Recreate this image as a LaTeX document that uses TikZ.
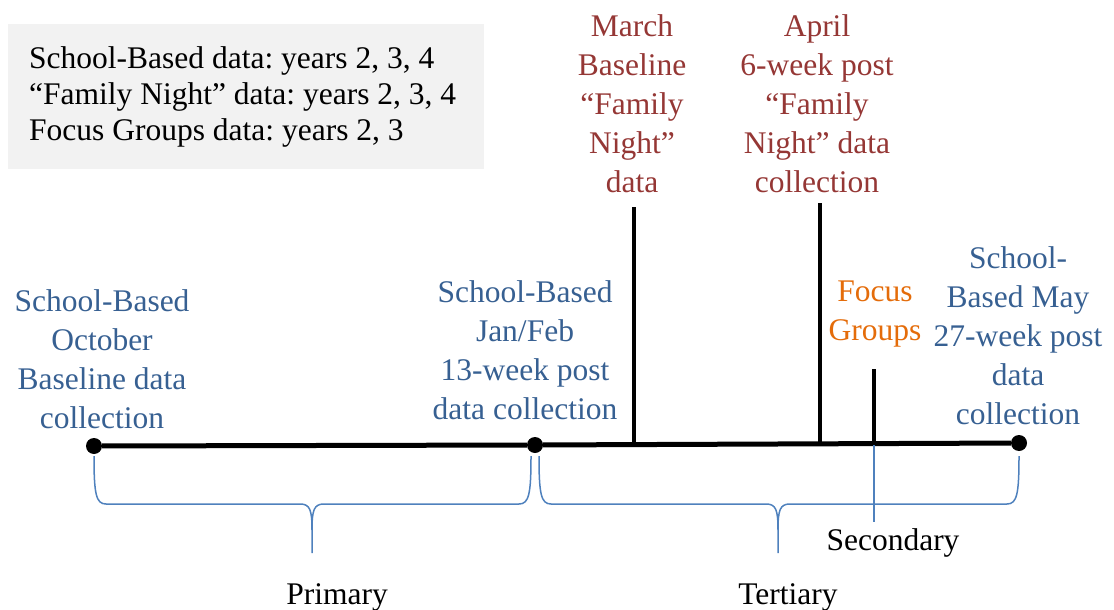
\documentclass[tikz,border=0pt]{standalone}
\usepackage{fontspec}
\setmainfont{Liberation Serif}
\frenchspacing
\definecolor{keygray}{HTML}{F2F2F2}
\definecolor{labelblue}{HTML}{376092}
\definecolor{labelred}{HTML}{953735}
\definecolor{labelorange}{HTML}{E46C0A}
\definecolor{braceblue}{HTML}{4F81BD}

\begin{document}
\begin{tikzpicture}
[x=1pt, y=-1pt,
 lbl/.style={align=center, inner sep=0pt, font=\fontsize{31.5}{39}\selectfont},
 keytext/.style={anchor=west, inner sep=0pt, align=left, font=\fontsize{31.5}{36}\selectfont},
 dot/.style={circle, fill=black, inner sep=0pt, minimum size=16pt},
 timeline/.style={line width=5pt},
 tick/.style={line width=4pt},
 bracepen/.style={draw=braceblue, line width=1.5pt}]
\useasboundingbox (0,0) rectangle (1114,610);

%Key
\fill[keygray] (8,24) rectangle (484,169);
\node[keytext] (key) at (29,96.5) {School-Based data: years 2, 3, 4\\“Family Night” data: years 2, 3, 4\\Focus Groups data: years 2, 3};

%Nodes
\node[dot] (oct) at (94,446) {};
\node[dot] (jan) at (535,445) {};
\node[dot] (may) at (1019,443) {};
\coordinate (march) at (634,207);
\coordinate (april) at (820,203);
\coordinate (focus) at (874,369);
\coordinate (sec) at (874,522);

\node[lbl, text=labelblue] (octlabel) at (102,359) {School-Based\\October\\Baseline data\\collection};
\node[lbl, text=labelblue] (janlabel) at (525,350) {School-Based\\Jan/Feb\\13-week post\\data collection};
\node[lbl, text=labelred] (marchlabel) at (632,104) {March\\Baseline\\“Family\\Night”\\data};
\node[lbl, text=labelred] (aprillabel) at (817,104) {April\\6-week post\\“Family\\Night” data\\collection};
\node[lbl, text=labelorange] (focuslabel) at (875,314) {Focus\\Groups};
\node[lbl, text=labelblue] (maylabel) at (1018,336) {School-\\Based May\\27-week post\\data\\collection};

\node[lbl] (primary) at (337,597) {Primary};
\node[lbl] (tertiary) at (788,597) {Tertiary};
\node[lbl] (secondary) at (893,543) {Secondary};

%Lines
\draw[timeline] (oct) -- (jan) -- (may);
\draw[tick] (march) -- (march |- jan);
\draw[tick] (april) -- (april |- jan);
\draw[tick] (focus) -- (focus |- jan);
\draw[bracepen] (focus |- jan) -- (sec);

%Braces
\draw[bracepen] (94,456) .. controls (94,494) and (96,504) .. (106,504) -- (300,504)
  .. controls (310,504) and (312,510) .. (312,530) -- (312,553);
\draw[bracepen] (531,456) .. controls (531,494) and (529,504) .. (519,504) -- (324,504)
  .. controls (314,504) and (312,510) .. (312,530);
\draw[bracepen] (539,456) .. controls (539,494) and (541,504) .. (551,504) -- (766,504)
  .. controls (776,504) and (778,510) .. (778,530) -- (778,553);
\draw[bracepen] (1019,456) .. controls (1019,494) and (1017,504) .. (1007,504) -- (790,504)
  .. controls (780,504) and (778,510) .. (778,530);

\end{tikzpicture}
\end{document}
